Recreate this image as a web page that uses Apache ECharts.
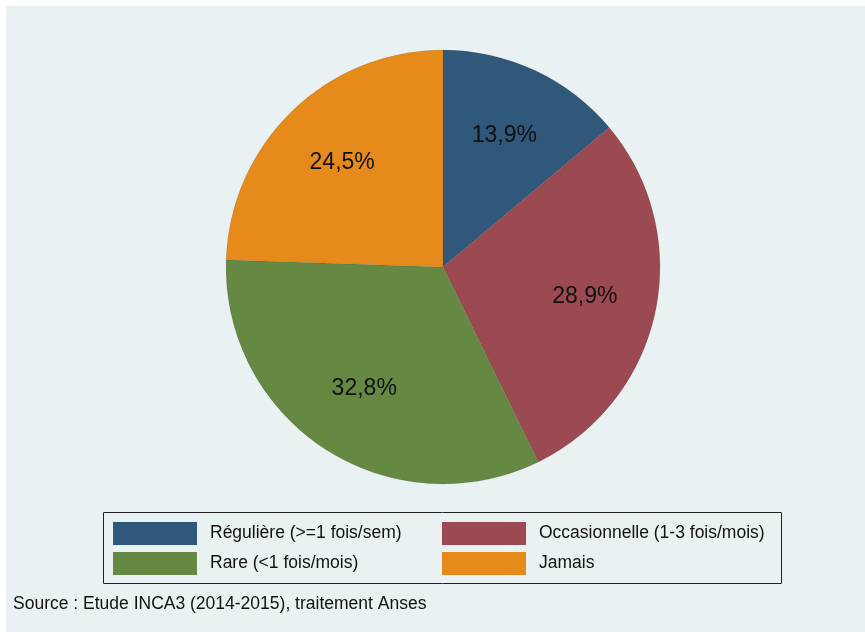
<!DOCTYPE html>
<html>
<head>
<meta charset="utf-8">
<script src="https://cdn.jsdelivr.net/npm/echarts@6/dist/echarts.min.js"></script>
<style>
  html, body { margin: 0; padding: 0; background: #ffffff; }
  #chart { width: 865px; height: 632px; }
</style>
</head>
<body>
<div id="chart"></div>
<script>
// Fréquence de consommation — parts en %
const categories = [
  'Régulière (>=1 fois/sem)',
  'Occasionnelle (1-3 fois/mois)',
  'Rare (<1 fois/mois)',
  'Jamais'
];
const shares = [13.9, 28.9, 32.8, 24.5];
const colors = ['#2F587A', '#9B4A51', '#658843', '#E68B1B'];
const sourceNote = 'Source : Etude INCA3 (2014-2015), traitement Anses';

const fmt = v => v.toFixed(1).replace('.', ',') + '%';

const pieData = categories.map((name, i) => ({
  name, value: shares[i], itemStyle: { color: colors[i] }
}));

const labelData = categories.map((name, i) => ({
  name, value: shares[i], itemStyle: { color: 'rgba(0,0,0,0)' }
}));

const chart = echarts.init(document.getElementById('chart'), null, { renderer: 'canvas' });

const legendText = {
  fontFamily: 'Liberation Sans, Arial, sans-serif',
  fontSize: 17.5,
  color: '#111',
  padding: [0, 0, 0, 8]
};

const legendBase = {
  orient: 'vertical', top: 522, padding: 0,
  itemWidth: 84, itemHeight: 23, itemGap: 7,
  icon: 'rect', selectedMode: false,
  itemStyle: { borderWidth: 0 },
  textStyle: legendText
};

chart.setOption({
  backgroundColor: '#ffffff',
  animation: false,
  graphic: [
    {
      type: 'rect', z: -10, silent: true,
      shape: { x: 6, y: 6, width: 865, height: 632 },
      style: { fill: '#EAF1F3' }
    },
    {
      type: 'rect', z: 1, silent: true,
      shape: { x: 103.5, y: 512.5, width: 678, height: 71 },
      style: { fill: 'none', stroke: '#222', lineWidth: 1 }
    },
    {
      type: 'text', silent: true, left: 13, top: 595,
      style: {
        text: sourceNote,
        font: '17.5px "Liberation Sans", Arial, sans-serif',
        fill: '#111'
      }
    }
  ],
  legend: [
    Object.assign({ data: [categories[0], categories[2]], left: 113 }, legendBase),
    Object.assign({ data: [categories[1], categories[3]], left: 442 }, legendBase)
  ],
  series: [
    {
      type: 'pie',
      center: [443, 267],
      radius: [0, 217],
      startAngle: 90,
      clockwise: true,
      silent: true,
      label: { show: false },
      labelLine: { show: false },
      itemStyle: { borderColor: 'rgba(60,60,60,0.25)', borderWidth: 0.5 },
      data: pieData
    },
    {
      // ring used only to place the percentage labels at ~2/3 of the radius
      type: 'pie',
      center: [443, 267],
      radius: [67, 217],
      startAngle: 90,
      clockwise: true,
      silent: true,
      legendHoverLink: false,
      label: {
        show: true,
        position: 'inside',
        formatter: p => fmt(p.value),
        fontFamily: 'Liberation Sans, Arial, sans-serif',
        fontSize: 23,
        color: '#111',
        padding: [10, 0, 0, 0]
      },
      labelLine: { show: false },
      data: labelData
    }
  ]
});
</script>
</body>
</html>
